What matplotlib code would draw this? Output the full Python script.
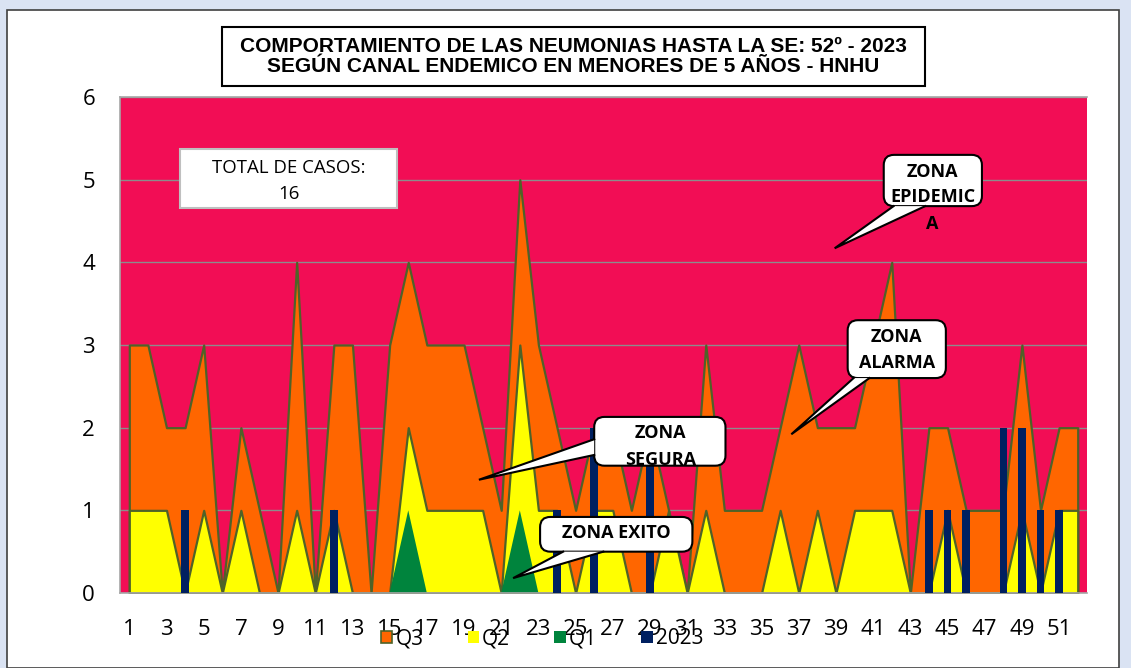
#importing all libraries which will be used.
import numpy as np
import matplotlib
matplotlib.use("Agg")
import matplotlib.pyplot as plt
from matplotlib.patches import Rectangle, FancyBboxPatch, Polygon, Patch

# data (epidemiological weeks 1 - 52)
weeks = list(range(1, 53))
q3 = [3, 3, 2, 2, 3, 0, 2, 1, 0, 4, 0, 3, 3, 0, 3, 4, 3, 3, 3, 2, 1, 5, 3, 2, 1, 2,
      2, 1, 2, 1, 0, 3, 1, 1, 1, 2, 3, 2, 2, 2, 3, 4, 0, 2, 2, 1, 1, 1, 3, 1, 2, 2]
q2 = [1, 1, 1, 0, 1, 0, 1, 0, 0, 1, 0, 1, 0, 0, 0, 2, 1, 1, 1, 1, 0, 3, 1, 1, 0, 1,
      1, 0, 0, 1, 0, 1, 0, 0, 0, 1, 0, 1, 0, 1, 1, 1, 0, 0, 1, 0, 0, 0, 1, 0, 1, 1]
q1 = [0, 0, 0, 0, 0, 0, 0, 0, 0, 0, 0, 0, 0, 0, 0, 1, 0, 0, 0, 0, 0, 1, 0, 0, 0, 0,
      0, 0, 0, 0, 0, 0, 0, 0, 0, 0, 0, 0, 0, 0, 0, 0, 0, 0, 0, 0, 0, 0, 0, 0, 0, 0]
cases_2023 = [0, 0, 0, 1, 0, 0, 0, 0, 0, 0, 0, 1, 0, 0, 0, 0, 0, 0, 0, 0, 0, 0, 0, 1, 0, 2,
              0, 0, 2, 0, 0, 0, 0, 0, 0, 0, 0, 0, 0, 0, 0, 0, 0, 1, 1, 1, 0, 2, 2, 1, 1, 0]
x_ticks = list(range(1, 52, 2))
y_ticks = [0, 1, 2, 3, 4, 5, 6]

title_text = ("COMPORTAMIENTO DE LAS NEUMONIAS HASTA LA SE: 52º - 2023\n"
              "SEGÚN CANAL ENDEMICO EN MENORES DE 5 AÑOS - HNHU")

# colours
PINK = "#F20D55"
ORANGE = "#FF6600"
YELLOW = "#FFFF00"
GREEN = "#00843D"
NAVY = "#002060"
OLIVE = "#4F6228"

W, H = 1131, 668
fig = plt.figure(figsize=(W / 100, H / 100), dpi=100)
fig.patch.set_facecolor("#DAE3F3")

# white chart area with a thin frame
fig.patches.append(Rectangle((7 / W, 0), (1119 - 7) / W, 1 - 10 / H, transform=fig.transFigure,
                             facecolor="white", edgecolor="#404040", linewidth=1.2, zorder=-1))

ax = fig.add_axes([120 / W, 1 - 593 / H, (1087 - 120) / W, (593 - 97) / H])
ax.set_zorder(2)
ax.set_facecolor(PINK)

x = np.array(weeks)
# areas are not stacked: each one goes from 0 up to its own value
ax.fill_between(x, 0, q3, facecolor=ORANGE, edgecolor=OLIVE, linewidth=1.6, zorder=2)
ax.fill_between(x, 0, q2, facecolor=YELLOW, edgecolor=OLIVE, linewidth=1.6, zorder=2.1)
ax.fill_between(x, 0, q1, facecolor=GREEN, edgecolor="none", zorder=2.2)
ax.bar(x, cases_2023, width=0.4, color=NAVY, zorder=3)

ax.set_xlim(0.5, 52.5)
ax.set_ylim(0, 6)
ax.set_xticks(x_ticks)
ax.set_yticks(y_ticks)
ax.grid(axis="y", color="#8C8C8C", linewidth=1.0)
ax.set_axisbelow(True)
ax.tick_params(axis="x", length=0, pad=19, labelsize=16)
ax.tick_params(axis="y", length=0, pad=18, labelsize=16)
for lab in ax.get_xticklabels() + ax.get_yticklabels():
    lab.set_fontfamily("Open Sans")
for side in ["left", "top", "bottom"]:
    ax.spines[side].set_color("#A6A6A6")
    ax.spines[side].set_linewidth(1.2)
ax.spines["right"].set_visible(False)

# title box
fig.patches.append(Rectangle((222 / W, 1 - 86 / H), (925 - 222) / W, (86 - 27) / H,
                             transform=fig.transFigure, facecolor="white",
                             edgecolor="black", linewidth=1.5, zorder=1))
fig.text(573.5 / W, 1 - 56.5 / H, title_text, ha="center", va="center", fontsize=15,
         fontweight="bold", family="Liberation Sans", linespacing=1.02, zorder=2)

# total cases box
ax.add_patch(Rectangle((3.75, 4.66), 15.39 - 3.75, 5.37 - 4.66, facecolor="white",
                       edgecolor="#BFBFBF", linewidth=1.5, zorder=6))
ax.text(9.57, 5.14, "TOTAL DE CASOS:", ha="center", va="center", fontsize=13.4,
        family="Open Sans", zorder=7)
ax.text(9.57, 4.83, "16", ha="center", va="center", fontsize=13.4, family="Open Sans", zorder=7)

aspect = (967 / 52) / (496 / 6)


#This function draws a rounded callout with a pointer
def callout(x0, y0, x1, y1, base1, tip, base2, lines, text_x, text_ys):
    box = FancyBboxPatch((x0, y0), x1 - x0, y1 - y0,
                         boxstyle="round,pad=0,rounding_size=0.55", mutation_aspect=aspect,
                         facecolor="white", edgecolor="black", linewidth=1.5, zorder=6)
    ax.add_patch(box)
    ax.add_patch(Polygon([base1, tip, base2], closed=True, facecolor="white",
                         edgecolor="none", zorder=6.5))
    ax.plot([base1[0], tip[0], base2[0]], [base1[1], tip[1], base2[1]], color="black",
            linewidth=1.5, zorder=6.6, solid_joinstyle="miter")
    for txt, ty in zip(lines, text_ys):
        ax.text(text_x, ty, txt, ha="center", va="center", fontsize=13,
                fontweight="bold", family="Open Sans", zorder=7)


callout(41.57, 4.68, 46.85, 5.30, (42.1, 4.68), (38.93, 4.17), (43.8, 4.68),
        ["ZONA", "EPIDEMIC", "A"], 44.2, [5.09, 4.79, 4.46])
callout(39.63, 2.60, 44.91, 3.30, (39.95, 2.60), (36.6, 1.92), (40.8, 2.60),
        ["ZONA", "ALARMA"], 42.27, [3.10, 2.78])
callout(26.0, 1.54, 33.06, 2.13, (26.0, 1.86), (19.8, 1.37), (26.0, 1.67),
        ["ZONA", "SEGURA"], 29.56, [1.94, 1.61])
callout(23.09, 0.50, 31.28, 0.92, (24.33, 0.50), (21.64, 0.18), (26.49, 0.50),
        ["ZONA EXITO"], 27.2, [0.73])

# legend sits on top of the tick labels like in the original
handles = [Patch(facecolor=ORANGE, edgecolor=OLIVE, linewidth=1.2, label="Q3"),
           Patch(facecolor=YELLOW, edgecolor="none", label="Q2"),
           Patch(facecolor=GREEN, edgecolor="none", label="Q1"),
           Patch(facecolor=NAVY, edgecolor="none", label="2023")]
leg = fig.legend(handles=handles, loc="center", bbox_to_anchor=(542 / W, 1 - 639 / H), ncol=4,
                 frameon=False, handlelength=0.55, handleheight=0.55, handletextpad=0.15,
                 columnspacing=2.12, prop={"family": "Open Sans", "size": 15})
leg.set_zorder(10)

fig.savefig("out.png", dpi=100, facecolor=fig.get_facecolor())
